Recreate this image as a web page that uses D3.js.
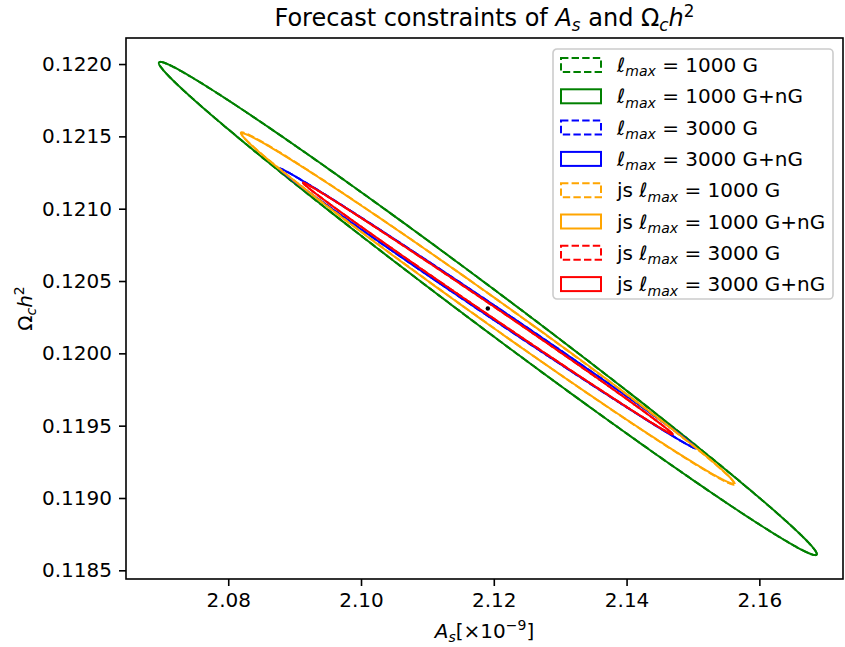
<!DOCTYPE html>
<html>
<head>
<meta charset="utf-8">
<script src="https://cdn.jsdelivr.net/npm/d3@7"></script>
<style>
  body { margin: 0; background: #fff; }
  svg { font-family: "DejaVu Sans", sans-serif; }
</style>
</head>
<body>
<svg id="chart" width="845" height="647"></svg>
<script>
// fiducial point (centre of every ellipse)
var fidA = 2.1191;
var fidO = 0.12031;

// forecast ellipses: 1-sigma-ish widths and correlation
var ellLabels = ["1000 G", "1000 G+nG", "3000 G", "3000 G+nG",
                 "js 1000 G", "js 1000 G+nG", "js 3000 G", "js 3000 G+nG"];
var sigA = [0.04955, 0.04955, 0.03137, 0.03137, 0.0372, 0.03705, 0.02783, 0.02783];
var sigO = [0.001705, 0.001705, 0.000968, 0.000968, 0.001218, 0.00121, 0.00087, 0.00087];
var rho  = [-0.9954, -0.9954, -0.9986, -0.9986, -0.9962, -0.9961, -0.99886, -0.99886];
var gaussOnly = [true, false, true, false, true, false, true, false];

var xTicks = [2.08, 2.10, 2.12, 2.14, 2.16];
var yTicks = [0.1185, 0.1190, 0.1195, 0.1200, 0.1205, 0.1210, 0.1215, 0.1220];

var colors = ["green", "green", "blue", "blue", "orange", "orange", "red", "red"];

var svg = d3.select("#chart");
var box = {left: 126, right: 843, top: 38, bottom: 579};

var xScale = d3.scaleLinear().domain([2.0646, 2.1726]).range([box.left, box.right]);
var yScale = d3.scaleLinear().domain([0.11844, 0.12218]).range([box.bottom, box.top]);

// writes text made of pieces: {t, i (italic), sub, sup}
function mathText(sel, parts, size) {
  var shift = 0;
  parts.forEach(function(p) {
    var want = p.sub ? size * 0.22 : (p.sup ? -size * 0.38 : 0);
    var ts = sel.append("tspan")
      .attr("dy", want - shift)
      .text(p.t);
    if (p.i) ts.attr("font-style", "italic");
    if (p.sub || p.sup) ts.attr("font-size", size * 0.7);
    shift = want;
  });
}

var plot = svg.append("g");
plot.append("clipPath").attr("id", "clip").append("rect")
  .attr("x", box.left).attr("y", box.top)
  .attr("width", box.right - box.left).attr("height", box.bottom - box.top);

var line = d3.line()
  .x(function(d) { return xScale(d[0]); })
  .y(function(d) { return yScale(d[1]); });

var angles = d3.range(0, 721).map(function(k) { return k * Math.PI / 360; });

var ellGrp = plot.append("g").attr("clip-path", "url(#clip)");
ellLabels.forEach(function(lab, i) {
  var pts = angles.map(function(t) {
    return [fidA + sigA[i] * Math.cos(t),
            fidO + sigO[i] * (rho[i] * Math.cos(t) + Math.sqrt(1 - rho[i] * rho[i]) * Math.sin(t))];
  });
  ellGrp.append("path")
    .attr("d", line(pts) + "Z")
    .attr("fill", "none")
    .attr("stroke", colors[i])
    .attr("stroke-width", 2)
    .attr("stroke-dasharray", gaussOnly[i] ? "7.4,3.2" : null);
});

// fiducial dot
ellGrp.append("circle")
  .attr("cx", xScale(fidA)).attr("cy", yScale(fidO))
  .attr("r", 2.2).attr("fill", "black");

// axes
var xAxis = svg.append("g")
  .attr("transform", "translate(0," + box.bottom + ")")
  .call(d3.axisBottom(xScale).tickValues(xTicks).tickFormat(d3.format(".2f"))
    .tickSizeInner(7).tickSizeOuter(0).tickPadding(7));
var yAxis = svg.append("g")
  .attr("transform", "translate(" + box.left + ",0)")
  .call(d3.axisLeft(yScale).tickValues(yTicks).tickFormat(d3.format(".4f"))
    .tickSizeInner(7).tickSizeOuter(0).tickPadding(7));
[xAxis, yAxis].forEach(function(a) {
  a.select(".domain").remove();
  a.selectAll(".tick line").attr("stroke", "#000").attr("stroke-width", 1.6);
  a.selectAll(".tick text").attr("font-size", 20).attr("fill", "#000")
    .attr("font-family", "DejaVu Sans");
});

svg.append("rect")
  .attr("x", box.left).attr("y", box.top)
  .attr("width", box.right - box.left).attr("height", box.bottom - box.top)
  .attr("fill", "none").attr("stroke", "#000").attr("stroke-width", 1.6);

// title and axis labels
var title = svg.append("text")
  .attr("x", (box.left + box.right) / 2).attr("y", 26)
  .attr("text-anchor", "middle").attr("font-size", 24);
mathText(title, [{t: "Forecast constraints of "}, {t: "A", i: true}, {t: "s", i: true, sub: true},
  {t: " and \u03a9"}, {t: "c", i: true, sub: true}, {t: "h", i: true}, {t: "2", sup: true}], 24);

var xLab = svg.append("text")
  .attr("x", (box.left + box.right) / 2).attr("y", 638)
  .attr("text-anchor", "middle").attr("font-size", 20);
mathText(xLab, [{t: "A", i: true}, {t: "s", i: true, sub: true}, {t: "[\u00d710"},
  {t: "\u22129", sup: true}, {t: "]"}], 20);

var yLab = svg.append("text")
  .attr("transform", "translate(32," + ((box.top + box.bottom) / 2) + ") rotate(-90)")
  .attr("text-anchor", "middle").attr("font-size", 20);
mathText(yLab, [{t: "\u03a9"}, {t: "c", i: true, sub: true}, {t: "h", i: true}, {t: "2", sup: true}], 20);

// legend
var leg = svg.append("g").attr("transform", "translate(553,49)");
leg.append("rect")
  .attr("width", 280).attr("height", 250).attr("rx", 4)
  .attr("fill", "white").attr("fill-opacity", 0.8)
  .attr("stroke", "#cccccc").attr("stroke-width", 1.6);

ellLabels.forEach(function(lab, i) {
  var cy = 16 + i * 31.3;
  leg.append("rect")
    .attr("x", 8).attr("y", cy - 7).attr("width", 40).attr("height", 14)
    .attr("fill", "none").attr("stroke", colors[i]).attr("stroke-width", 2)
    .attr("stroke-dasharray", gaussOnly[i] ? "7.4,3.2" : null);
  var js = lab.indexOf("js ") === 0;
  var rest = lab.replace("js ", "");
  var parts = [];
  if (js) parts.push({t: "js "});
  parts.push({t: "\u2113", i: true}, {t: "max", i: true, sub: true}, {t: " = " + rest});
  var txt = leg.append("text").attr("x", 64).attr("y", cy + 7).attr("font-size", 20);
  mathText(txt, parts, 20);
});
</script>
</body>
</html>
